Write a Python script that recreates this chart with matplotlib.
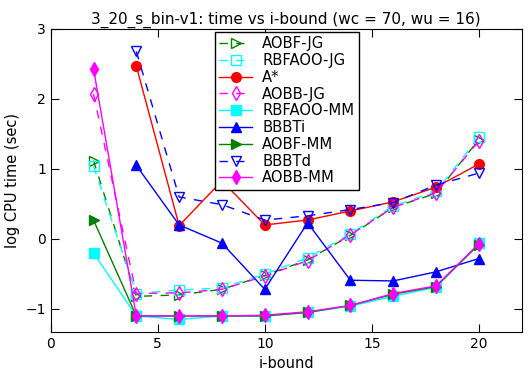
import matplotlib
matplotlib.use("Agg")
import matplotlib.pyplot as plt

ibound = [2, 4, 6, 8, 10, 12, 14, 16, 18, 20]
ibound_from4 = [4, 6, 8, 10, 12, 14, 16, 18, 20]

aobf_jg = [1.12, -0.82, -0.80, -0.72, -0.52, -0.30, 0.05, 0.45, 0.65, 1.42]
rbfaoo_jg = [1.04, -0.78, -0.73, -0.70, -0.50, -0.27, 0.07, 0.47, 0.68, 1.45]
astar = [2.47, 0.19, 0.83, 0.20, 0.27, 0.40, 0.53, 0.74, 1.07]
aobb_jg = [2.07, -0.78, -0.77, -0.72, -0.53, -0.31, 0.06, 0.45, 0.66, 1.40]
rbfaoo_mm = [-0.20, -1.10, -1.15, -1.10, -1.10, -1.05, -0.96, -0.82, -0.69, -0.06]
bbbti = [1.05, 0.20, -0.06, -0.72, 0.23, -0.59, -0.60, -0.47, -0.28]
aobf_mm = [0.27, -1.10, -1.10, -1.10, -1.10, -1.05, -0.95, -0.79, -0.68, -0.08]
bbbtd = [2.68, 0.60, 0.49, 0.27, 0.33, 0.42, 0.52, 0.77, 0.94]
aobb_mm = [2.43, -1.10, -1.10, -1.10, -1.09, -1.04, -0.95, -0.78, -0.67, -0.07]

plt.rcParams["font.family"] = "DejaVu Sans"
plt.rcParams["font.size"] = 10

fig = plt.figure(figsize=(5.28, 3.71), dpi=100)
ax = fig.add_axes([0.096, 0.105, 0.892, 0.817])

dash = (0, (6, 6))
ms = 7
ax.plot(ibound, aobf_jg, color="green", ls=dash, lw=1, marker=">", ms=ms, mfc="none", mec="green", label="AOBF-JG")
ax.plot(ibound, rbfaoo_jg, color="cyan", ls=dash, lw=1, marker="s", ms=ms, mfc="none", mec="cyan", label="RBFAOO-JG")
ax.plot(ibound_from4, astar, color="red", ls="-", lw=1, marker="o", ms=ms, label="A*")
ax.plot(ibound, aobb_jg, color="magenta", ls=dash, lw=1, marker="d", ms=ms, mfc="none", mec="magenta", label="AOBB-JG")
ax.plot(ibound, rbfaoo_mm, color="cyan", ls="-", lw=1, marker="s", ms=ms, mec="cyan", label="RBFAOO-MM")
ax.plot(ibound_from4, bbbti, color="blue", ls="-", lw=1, marker="^", ms=ms, mec="blue", label="BBBTi")
ax.plot(ibound, aobf_mm, color="green", ls="-", lw=1, marker=">", ms=ms, mec="green", label="AOBF-MM")
ax.plot(ibound_from4, bbbtd, color="blue", ls=dash, lw=1, marker="v", ms=ms, mfc="none", mec="blue", label="BBBTd")
ax.plot(ibound, aobb_mm, color="magenta", ls="-", lw=1, marker="d", ms=ms, mec="magenta", label="AOBB-MM")

ax.set_xlim(0, 22)
ax.set_ylim(-1.33, 3.0)
ax.set_xticks([0, 5, 10, 15, 20])
ax.set_yticks([-1, 0, 1, 2, 3])
ax.tick_params(direction="in", top=True, right=True, length=6)
ax.set_xlabel("i-bound", fontsize=10.5)
ax.set_ylabel("log CPU time (sec)", fontsize=10.5)
ax.set_title("3_20_s_bin-v1: time vs i-bound (wc = 70, wu = 16)", fontsize=11, pad=4)

leg = ax.legend(loc="upper left", bbox_to_anchor=(0.407, 0.914), bbox_transform=fig.transFigure,
                fancybox=False, edgecolor="black", framealpha=1, handlelength=2.2,
                fontsize=10.6, borderpad=0.3, labelspacing=0.12, handletextpad=0.7,
                borderaxespad=0)
leg.get_frame().set_linewidth(1)

fig.savefig("out.png", dpi=100)
